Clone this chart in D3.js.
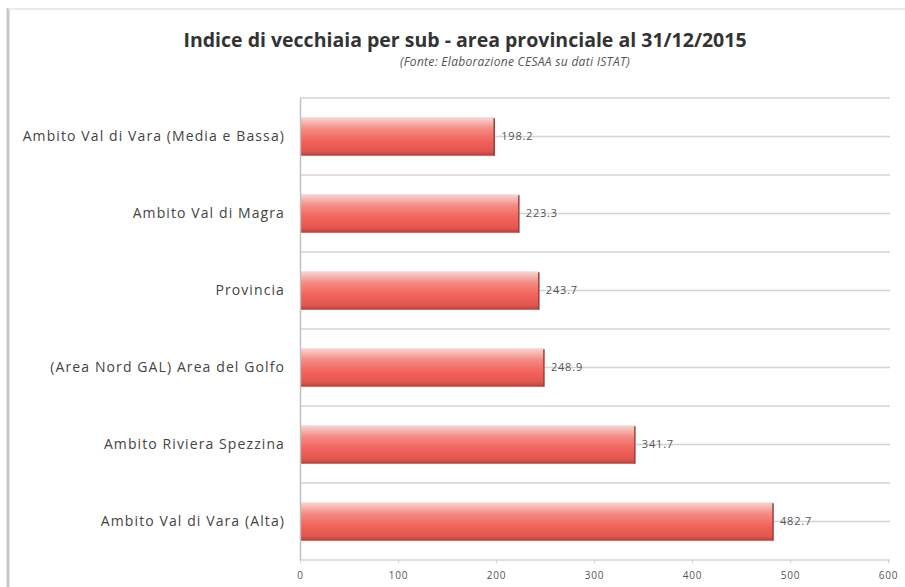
<!DOCTYPE html>
<html>
<head>
<meta charset="utf-8">
<script src="https://cdn.jsdelivr.net/npm/d3@7"></script>
<style>
  html, body { margin: 0; padding: 0; background: #fff; }
  svg { display: block; }
</style>
</head>
<body>
<svg id="chart" width="905" height="587"></svg>
<script>
// Ageing index by provincial sub-area, 31/12/2015
const categories = [
  "Ambito Val di Vara (Media e Bassa)",
  "Ambito Val di Magra",
  "Provincia",
  "(Area Nord GAL) Area del Golfo",
  "Ambito Riviera Spezzina",
  "Ambito Val di Vara (Alta)"
];
const values = [198.2, 223.3, 243.7, 248.9, 341.7, 482.7];
const tickValues = [0, 100, 200, 300, 400, 500, 600];

const svg = d3.select("#chart");
const W = 905, H = 587;
const margin = { left: 300, right: 17, top: 98, bottom: 27 };

const font = "'Open Sans', 'Liberation Sans', Arial, sans-serif";

// outer frame
svg.append("rect").attr("x", 0).attr("y", 0).attr("width", W).attr("height", H).attr("fill", "#fff");
svg.append("line").attr("x1", 8).attr("x2", 8).attr("y1", 8).attr("y2", H)
  .attr("stroke", "#c8c8c8").attr("stroke-width", 3);
svg.append("line").attr("x1", 8).attr("x2", W).attr("y1", 9).attr("y2", 9)
  .attr("stroke", "#e4e4e4").attr("stroke-width", 1.5);

const x = d3.scaleLinear().domain([0, 600]).range([margin.left, W - margin.right]);
const y = d3.scaleBand().domain(categories).range([margin.top, H - margin.bottom]).paddingInner(0).paddingOuter(0);

// bar gradient: light top, red body, darker bottom edge
const defs = svg.append("defs");
const grad = defs.append("linearGradient").attr("id", "barGrad")
  .attr("x1", 0).attr("y1", 0).attr("x2", 0).attr("y2", 1);
grad.append("stop").attr("offset", "0%").attr("stop-color", "#fbd6d2");
grad.append("stop").attr("offset", "30%").attr("stop-color", "#f58a83");
grad.append("stop").attr("offset", "60%").attr("stop-color", "#f3645c");
grad.append("stop").attr("offset", "88%").attr("stop-color", "#e0574f");
grad.append("stop").attr("offset", "100%").attr("stop-color", "#a9443f");

// horizontal gridlines at band edges and band centres
const gridYs = [];
categories.forEach(c => { gridYs.push(y(c)); gridYs.push(y(c) + y.bandwidth() / 2); });
gridYs.push(y.range()[1]);
svg.append("g").selectAll("line").data(gridYs).join("line")
  .attr("x1", x(0)).attr("x2", x(600) + 2)
  .attr("y1", d => d).attr("y2", d => d)
  .attr("stroke", "#d4d4d4").attr("stroke-width", 1.4);

// bars
const barH = y.bandwidth() * 0.5;
svg.append("g").selectAll("rect").data(values).join("rect")
  .attr("x", x(0))
  .attr("y", (d, i) => y(categories[i]) + (y.bandwidth() - barH) / 2)
  .attr("width", d => x(d) - x(0))
  .attr("height", barH)
  .attr("fill", "url(#barGrad)");
// dark right edge of each bar
svg.append("g").selectAll("line").data(values).join("line")
  .attr("x1", d => x(d)).attr("x2", d => x(d))
  .attr("y1", (d, i) => y(categories[i]) + (y.bandwidth() - barH) / 2 + 1)
  .attr("y2", (d, i) => y(categories[i]) + (y.bandwidth() + barH) / 2)
  .attr("stroke", "#9b3f3a").attr("stroke-width", 1.5);

// value labels
svg.append("g").selectAll("text").data(values).join("text")
  .attr("x", d => x(d) + 7)
  .attr("y", (d, i) => y(categories[i]) + y.bandwidth() / 2)
  .attr("dy", "0.35em")
  .attr("font-family", font).attr("font-size", 11).attr("letter-spacing", 0.8).attr("fill", "#555")
  .text(d => d.toFixed(1));

// y axis (category labels)
const yAxis = svg.append("g").attr("transform", `translate(${x(0)},0)`)
  .call(d3.axisLeft(y).tickSize(0).tickPadding(15));
yAxis.select(".domain").attr("stroke", "#bdbdbd").attr("stroke-width", 1.4);
yAxis.selectAll("text").attr("font-family", font).attr("font-size", 14)
  .attr("letter-spacing", 1.1).attr("fill", "#444");

// x axis
const xAxis = svg.append("g").attr("transform", `translate(0,${y.range()[1]})`)
  .call(d3.axisBottom(x).tickValues(tickValues).tickSize(3).tickPadding(9));
xAxis.select(".domain").remove();
xAxis.selectAll("line").attr("stroke", "#d0d0d0");
xAxis.selectAll("text").attr("font-family", font).attr("font-size", 10)
  .attr("letter-spacing", 0.8).attr("fill", "#555");

// titles
svg.append("text").attr("x", 465).attr("y", 47).attr("text-anchor", "middle")
  .attr("font-family", font).attr("font-size", 19.5).attr("font-weight", "bold").attr("fill", "#333")
  .text("Indice di vecchiaia per sub - area provinciale al 31/12/2015");
svg.append("text").attr("x", 515).attr("y", 66).attr("text-anchor", "middle")
  .attr("font-family", font).attr("font-size", 12).attr("letter-spacing", 0.3)
  .attr("font-style", "italic").attr("fill", "#555")
  .text("(Fonte: Elaborazione CESAA su dati ISTAT)");
</script>
</body>
</html>
